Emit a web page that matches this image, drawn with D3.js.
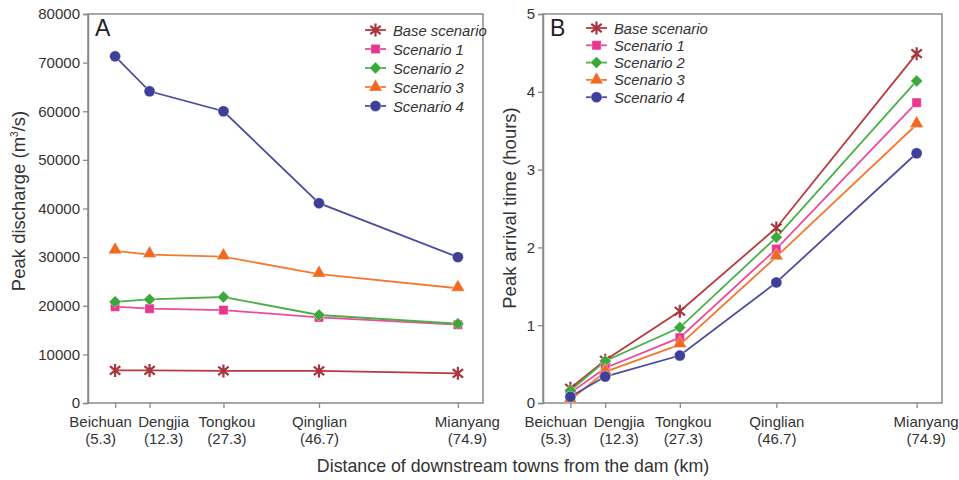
<!DOCTYPE html>
<html>
<head>
<meta charset="utf-8">
<script src="https://cdn.jsdelivr.net/npm/d3@7"></script>
<style>
  html, body { margin: 0; padding: 0; background: #fff; }
  svg { display: block; font-family: "Liberation Sans", Arial, sans-serif; }
</style>
</head>
<body>
<svg id="chart" width="959" height="480"></svg>
<script>
// Towns along the river and their distance from the dam (km)
const towns = ["Beichuan", "Dengjia", "Tongkou", "Qinglian", "Mianyang"];
const distances = [5.3, 12.3, 27.3, 46.7, 74.9];

const seriesNames = ["Base scenario", "Scenario 1", "Scenario 2", "Scenario 3", "Scenario 4"];

// Peak discharge (m3/s)
const dischargeBase = [6700, 6700, 6600, 6600, 6100];
const discharge1 = [19800, 19400, 19100, 17600, 16100];
const discharge2 = [20800, 21300, 21800, 18100, 16300];
const discharge3 = [31300, 30500, 30100, 26500, 23600];
const discharge4 = [71300, 64100, 60000, 41100, 30000];

// Peak arrival time (hours)
const arrivalBase = [0.19, 0.55, 1.18, 2.25, 4.49];
const arrival1 = [0.13, 0.45, 0.84, 1.98, 3.86];
const arrival2 = [0.16, 0.54, 0.97, 2.13, 4.14];
const arrival3 = [0.04, 0.40, 0.75, 1.88, 3.58];
const arrival4 = [0.08, 0.34, 0.61, 1.55, 3.21];

const dischargeTicks = [0, 10000, 20000, 30000, 40000, 50000, 60000, 70000, 80000];
const arrivalTicks = [0, 1, 2, 3, 4, 5];

// horizontal nudges (px) that keep the crowded town labels apart
const labelShift = [-15, 13.5, 3, 0, 9];

const colors = ["#a8353d", "#e8378f", "#3aa93a", "#f06a22", "#3d3f98"];
const lineColors = ["#b93a3e", "#ee4a9b", "#49b046", "#f47a32", "#4b4d9f"];
const shapes = ["asterisk", "square", "diamond", "triangle", "circle"];

const svg = d3.select("#chart");
const axisColor = "#8a8a8a";
const textColor = "#333";

function markerPath(shape) {
  if (shape === "asterisk") {
    const r = 6.5, dx = 5.2, dy = 4.2;
    return `M0,${-r}L0,${r}M${-dx},${-dy}L${dx},${dy}M${-dx},${dy}L${dx},${-dy}`;
  }
  if (shape === "diamond") {
    const r = 6;
    return `M0,${-r}L${r},0L0,${r}L${-r},0Z`;
  }
  const sym = { square: d3.symbolSquare, triangle: d3.symbolTriangle, circle: d3.symbolCircle }[shape];
  const size = { square: 85, triangle: 80, circle: 95 }[shape];
  return d3.symbol().type(sym).size(size)();
}

function drawMarker(g, shape, color, x, y) {
  const p = g.append("path").attr("d", markerPath(shape)).attr("transform", `translate(${x},${y})`);
  if (shape === "asterisk") {
    p.attr("fill", "none").attr("stroke", color).attr("stroke-width", 2.2);
  } else {
    p.attr("fill", color).attr("stroke", "#fff").attr("stroke-opacity", 0.6).attr("stroke-width", 0.6);
  }
}

function panel(cfg) {
  const { left, right, top, bottom, yMax, ticks, series, letter, legend, yTitle, yTitleX, yTitleY } = cfg;
  const x = d3.scaleLinear().domain([0, 80]).range([left, right]);
  const y = d3.scaleLinear().domain([0, yMax]).range([bottom, top]);
  const g = svg.append("g");

  // frame
  g.append("rect").attr("x", left - 1).attr("y", top).attr("width", right - left + 1).attr("height", bottom - top)
    .attr("fill", "none").attr("stroke", axisColor).attr("stroke-width", 1.5);

  // y axis
  const ya = g.append("g").attr("transform", `translate(${left - 1},0)`)
    .call(d3.axisLeft(y).tickValues(ticks).tickSize(5).tickPadding(3).tickFormat(d3.format("d")));
  ya.select(".domain").attr("stroke", axisColor).attr("stroke-width", 1.5);
  ya.selectAll(".tick line").attr("stroke", axisColor).attr("stroke-width", 1.3);
  ya.selectAll(".tick text").attr("fill", textColor).style("font-size", "15px").style("font-family", "Liberation Sans, Arial, sans-serif");

  // x axis
  const xa = g.append("g").attr("transform", `translate(0,${bottom})`)
    .call(d3.axisBottom(x).tickValues(distances).tickSize(5).tickFormat(""));
  xa.select(".domain").remove();
  xa.selectAll(".tick line").attr("stroke", axisColor).attr("stroke-width", 1.3);
  xa.selectAll(".tick").each(function(d, i) {
    const t = d3.select(this).append("text").attr("fill", textColor).attr("text-anchor", "middle")
      .style("font-size", "15px");
    t.append("tspan").attr("x", labelShift[i]).attr("y", 24).text(towns[i]);
    t.append("tspan").attr("x", labelShift[i]).attr("y", 41).text(`(${distances[i]})`);
  });

  // series lines and markers
  series.forEach((vals, si) => {
    const line = d3.line().x((d, i) => x(distances[i])).y(d => y(d));
    g.append("path").datum(vals).attr("d", line).attr("fill", "none")
      .attr("stroke", lineColors[si]).attr("stroke-width", 1.8);
  });
  series.forEach((vals, si) => {
    vals.forEach((v, i) => drawMarker(g, shapes[si], colors[si], x(distances[i]), y(v) + (shapes[si] === "triangle" ? -1 : 0)));
  });

  // panel letter
  g.append("text").attr("x", left + 6).attr("y", top + 22).attr("fill", "#222")
    .style("font-size", "23px").text(letter);

  // legend
  seriesNames.forEach((name, si) => {
    const ly = legend.y + si * legend.dy;
    g.append("line").attr("x1", legend.x).attr("x2", legend.x + 21).attr("y1", ly).attr("y2", ly)
      .attr("stroke", lineColors[si]).attr("stroke-width", 1.8);
    drawMarker(g, shapes[si], colors[si], legend.x + 10.5, ly);
    g.append("text").attr("x", legend.x + 28).attr("y", ly + 5.5).attr("fill", textColor)
      .style("font-size", "14.8px").style("font-style", "italic").text(name);
  });

  // y axis title
  const yt = g.append("text").attr("transform", `translate(${yTitleX},${yTitleY}) rotate(-90)`)
    .attr("text-anchor", "middle").attr("fill", textColor).style("font-size", "18.5px");
  yTitle(yt);
}

panel({
  left: 89, right: 483, top: 14, bottom: 403, yMax: 80000, ticks: dischargeTicks,
  series: [dischargeBase, discharge1, discharge2, discharge3, discharge4],
  letter: "A", legend: { x: 365, y: 30, dy: 19 },
  yTitleX: 25, yTitleY: 201,
  yTitle: t => {
    t.append("tspan").text("Peak discharge (m");
    t.append("tspan").attr("dy", -7).style("font-size", "10px").text("3");
    t.append("tspan").attr("dy", 7).text("/s)");
  }
});

panel({
  left: 544, right: 942, top: 14, bottom: 403, yMax: 5, ticks: arrivalTicks,
  series: [arrivalBase, arrival1, arrival2, arrival3, arrival4],
  letter: "B", legend: { x: 586, y: 28, dy: 17.3 },
  yTitleX: 516, yTitleY: 208,
  yTitle: t => t.text("Peak arrival time (hours)")
});

// shared x axis title
svg.append("text").attr("x", 513).attr("y", 472).attr("text-anchor", "middle").attr("fill", textColor)
  .style("font-size", "17.8px").text("Distance of downstream towns from the dam (km)");
</script>
</body>
</html>
